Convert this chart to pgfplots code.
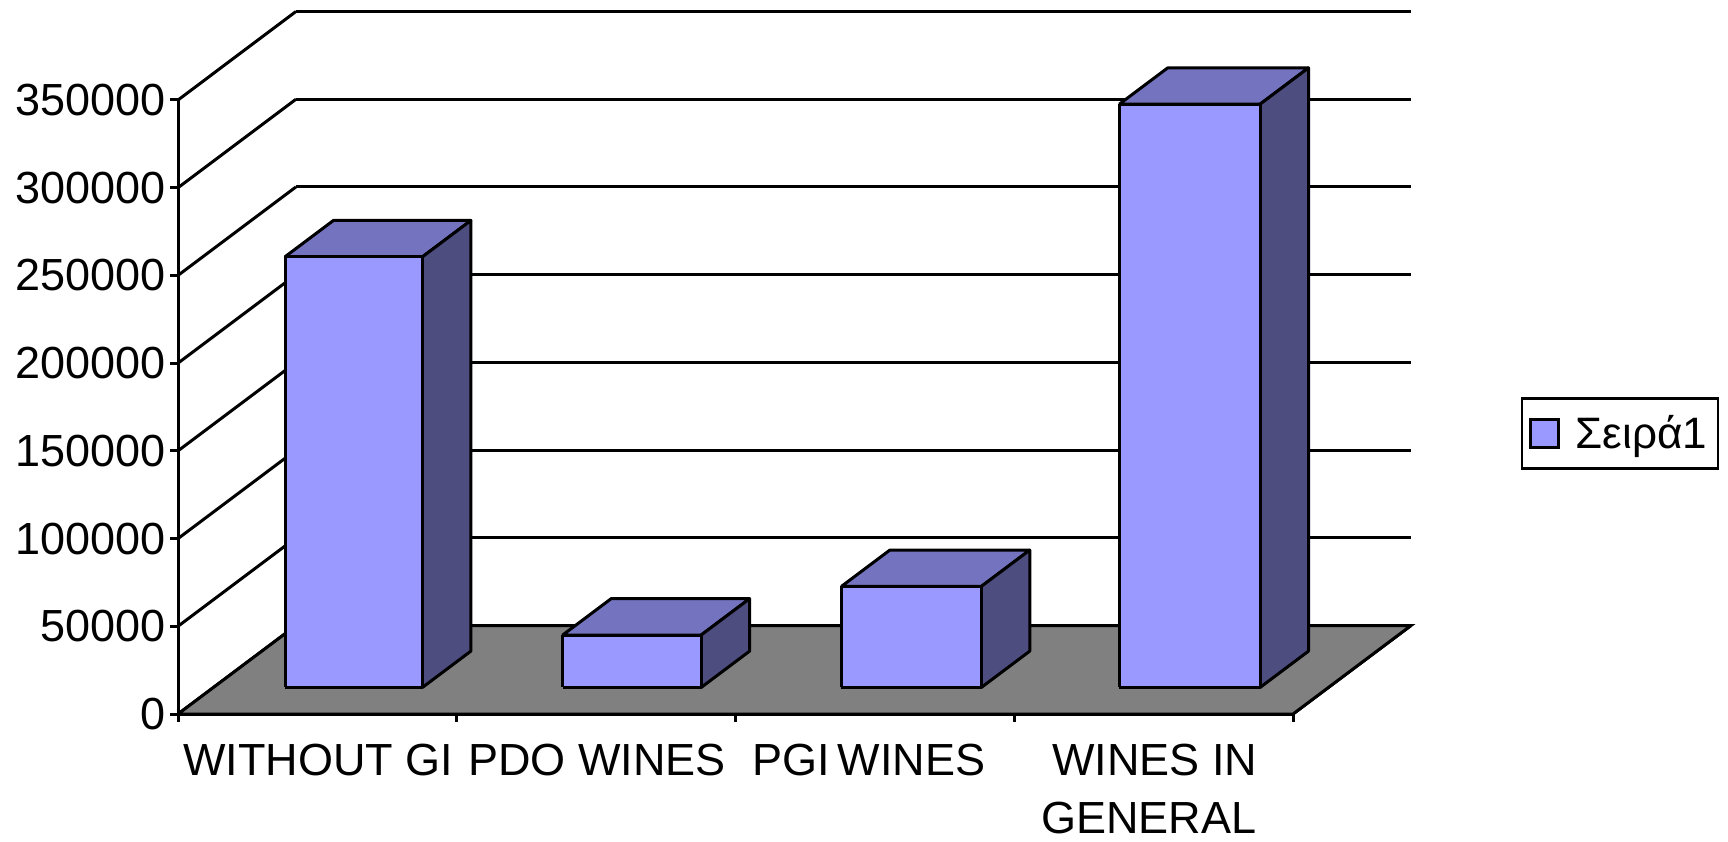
\documentclass[border=0pt]{standalone}
\usepackage{fontspec}
\setmainfont{Liberation Sans}
\usepackage{pgfplots}
\pgfplotsset{compat=1.18}
\definecolor{barfront}{RGB}{153,153,255}
\definecolor{bartop}{RGB}{115,115,191}
\definecolor{barside}{RGB}{77,77,128}
\definecolor{floorgray}{RGB}{128,128,128}
% left edge, right edge, value
\newcommand{\threedbar}[3]{%
  \addplot3[forget plot,fill=bartop,draw=black,line width=1.5pt,line join=round] coordinates {(#1,0.3,#3) (#2,0.3,#3) (#2,0.71,#3) (#1,0.71,#3) (#1,0.3,#3)};
  \addplot3[forget plot,fill=barside,draw=black,line width=1.5pt,line join=round] coordinates {(#2,0.3,0) (#2,0.71,0) (#2,0.71,#3) (#2,0.3,#3) (#2,0.3,0)};
  \addplot3[forget plot,fill=barfront,draw=black,line width=1.5pt,line join=round] coordinates {(#1,0.3,0) (#2,0.3,0) (#2,0.3,#3) (#1,0.3,#3) (#1,0.3,0)};
}
\begin{document}
\begin{tikzpicture}
\useasboundingbox (0,0) rectangle (864pt,420.5pt);
\begin{axis}[
  at={(89pt,63.5pt)}, anchor=origin,
  x={(139.375pt,0pt)}, y={(59pt,44.25pt)}, z={(0pt,0.87714pt)},
  z coord trafo/.code={\pgfkeys{/pgf/fpu=true,/pgf/fpu/output format=fixed}\pgfmathparse{#1/1000}\pgfkeys{/pgf/fpu=false}},
  xmin=0, xmax=4, ymin=0, ymax=1, zmin=0, zmax=350000,
  axis lines=left,
  axis line style={-,line width=1.5pt,black},
  clip=false,
  xtick={0,1,2,3,4},
  x tick label as interval,
  xticklabels={WITHOUT GI,PDO WINES,{PGI\hspace{0.18em}WINES\hspace*{7pt}},{WINES IN\\GENERAL\hspace*{6pt}}},
  ytick=\empty,
  ztick={0,50000,100000,150000,200000,250000,300000,350000},
  zticklabels={0,50000,100000,150000,200000,250000,300000,350000},
  major tick length=0pt,
  tick label style={font=\fontsize{22.5}{29}\selectfont},
  xticklabel style={align=center,anchor=north,inner sep=0pt,yshift=-15pt,xshift=0.5pt},
  zticklabel style={inner sep=0pt,anchor=east,xshift=-6pt},
  zmajorgrids=true,
  grid style={black,line width=1.5pt},
  legend style={at={(axis description cs:1.1695,0.399)},anchor=center,
    draw=black,line width=1.3pt,font=\fontsize{22}{26}\selectfont,
    inner xsep=3.5pt,inner ysep=6.5pt},
]
\addplot3[forget plot,fill=floorgray,draw=black,line width=1.5pt] coordinates {(0,0,0) (4,0,0) (4,1,0) (0,1,0) (0,0,0)};
\addplot3[forget plot,black,line width=1.5pt] coordinates {(0,0,0) (0,0,350000)};
\pgfplotsinvokeforeach{0,50000,100000,150000,200000,250000,300000,350000}{
  \addplot3[forget plot,black,line width=1.5pt] coordinates {(-0.029,0,#1) (0,0,#1)};
}
\pgfplotsinvokeforeach{0,1,2,3,4}{
  \addplot3[forget plot,black,line width=1.5pt] coordinates {(#1,0,0) (#1,0,-4500)};
}
\threedbar{0.257}{0.75}{245500}
\threedbar{1.253}{1.75}{29900}
\threedbar{2.253}{2.755}{57600}
\threedbar{3.25}{3.755}{332500}
\addlegendimage{legend image code/.code={\draw[fill=barfront,draw=black,line width=1.3pt] (2pt,-7pt) rectangle (16pt,7pt);}}
\addlegendentry{\hspace*{6pt}Σειρά1}
\end{axis}
\end{tikzpicture}
\end{document}
